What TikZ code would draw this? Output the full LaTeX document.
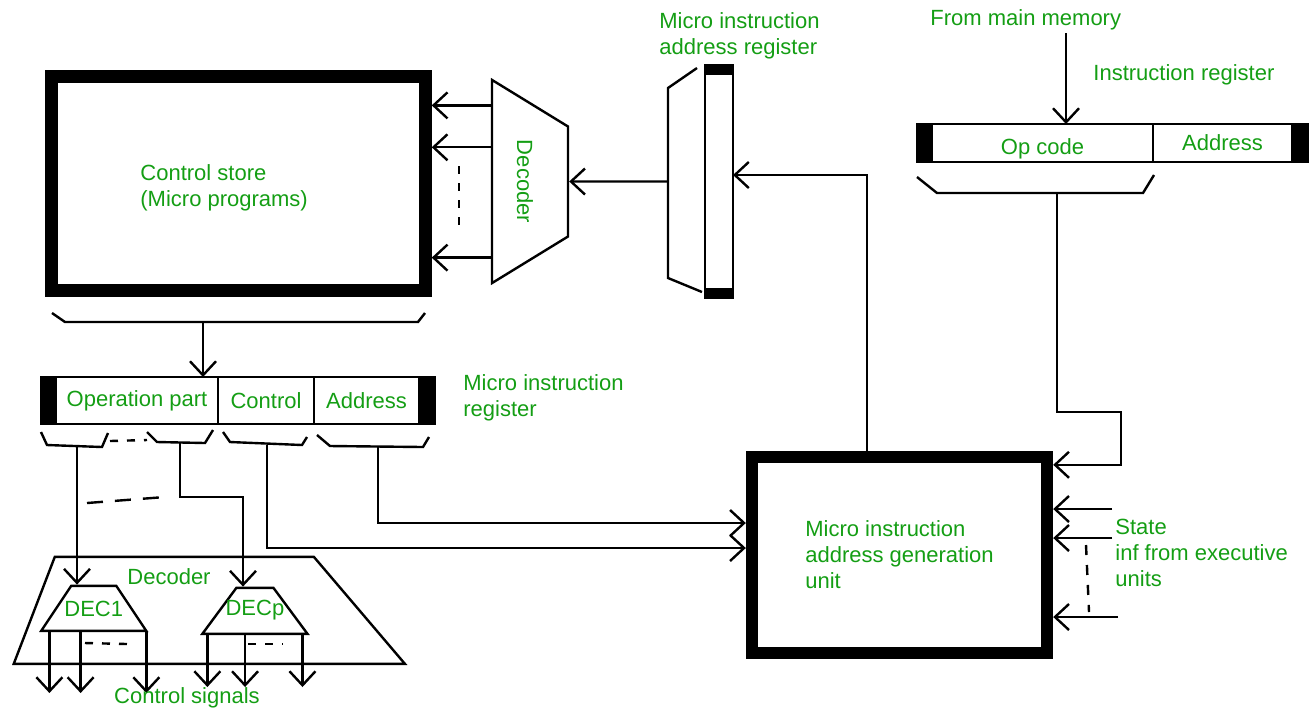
\documentclass[tikz,border=0pt]{standalone}
\usepackage{fontspec}
\setmainfont{Liberation Sans}
\usetikzlibrary{arrows.meta,positioning,calc,shapes.geometric}
\definecolor{txtgreen}{HTML}{149E14}
\newcommand{\lblfont}{\fontsize{11}{13}\selectfont}
\tikzset{
  lbl/.style={text=txtgreen, font=\lblfont, inner sep=0pt, align=left},
  bigbox/.style={draw, line width=6.2pt, inner sep=0pt},
  cell/.style={
    draw, line width=0.8pt, inner sep=0pt, outer sep=0pt,
    text=txtgreen, font=\lblfont
  },
  capcell/.style={cell, fill=black},
  trap/.style={
    draw, trapezium, line width=1.2pt,
    inner sep=0pt, text=txtgreen, font=\lblfont
  },
  wire/.style={line width=1.2pt},
  arr/.style={wire, -{Straight Barb[length=7pt,width=13pt]}},
  dashwire/.style={wire, dash pattern=on 4pt off 4.5pt}
}
\begin{document}
\begin{tikzpicture}[x=0.5pt, y=-0.5pt, node distance=0pt]
  \useasboundingbox (0,0) rectangle (1309,709);

  \node[bigbox, minimum width=187pt, minimum height=107pt] (store) at (238.5,183.5) {};
  \node[lbl, anchor=west] (storetxt) at (140,188) {Control store\\(Micro programs)};
  \node[trap, rotate=-90, trapezium angle=58.5, text height=25.5pt, text depth=12.5pt] (dec) at (530,181.5) {\makebox[55pt]{Decoder}};
  \foreach \f [count=\i] in {0.133,0.335,0.867}
    \path ($(dec.bottom left corner)!\f!(dec.bottom right corner)$) coordinate (out\i);
  \foreach \i in {1,2,3}
    \draw[arr] (out\i) -- (out\i -| store.east);
  \draw[dashwire] (459,166) -- (459,230);

  \node[capcell, minimum width=14pt, minimum height=4.5pt] (miartop) at (719,69.5) {};
  \node[cell, minimum width=14pt, minimum height=107.5pt, below=of miartop] (miar) {};
  \node[capcell, minimum width=14pt, minimum height=4.5pt, below=of miar] (miarbot) {};
  \node[lbl, anchor=west] (miartxt) at (659,35.5) {Micro instruction\\address register};
  \draw[wire] (697,68) -- (668,88) -- (668,278) -- (702,292);
  \coordinate (miarbr) at (668,181.5);
  \draw[arr] (miarbr) -- (dec.north);

  \node[capcell, minimum width=7.5pt, minimum height=19pt] (irl) at (924.5,143) {};
  \node[cell, minimum width=110.5pt, minimum height=19pt, right=of irl] (irop) {\raisebox{-5.5pt}[0pt][0pt]{Op code}\hspace{25pt}};
  \node[cell, minimum width=69.5pt, minimum height=19pt, right=of irop] (iradr) {Address\hspace{9pt}};
  \node[capcell, minimum width=8pt, minimum height=19pt, right=of iradr] (irr) {};
  \node[lbl, anchor=west] (memtxt) at (930,20) {From main memory};
  \node[lbl, anchor=west] (irtxt) at (1093,75) {Instruction register};
  \coordinate (memin) at (1066,33);
  \draw[arr] (memin) -- (memin |- irop.north);
  \draw[wire] (917,177) -- (937,193) -- (1143,193) -- (1154,175);

  \node[bigbox, lbl, minimum width=147.5pt, minimum height=98pt] (agu) at (899.5,555) {Micro instruction\\address generation\\unit};
  \coordinate (irbr) at (1057,193);
  \coordinate (irturn) at (1121,412);
  \draw[arr] (irbr) |- (irturn) |- ([yshift=-7pt]agu.north east);
  \coordinate (aguT) at ($(agu.north west)!0.394!(agu.north east)$);
  \draw[arr] (aguT) |- ([yshift=3.25pt]miar.east);

  \coordinate (st1) at (1112,509);
  \coordinate (st2) at (1112,538);
  \coordinate (st3) at (1118,617);
  \foreach \s in {st1,st2,st3}
    \draw[arr] (\s) -- (\s -| agu.east);
  \draw[dashwire, dash pattern=on 5pt off 5pt] (1086,545) -- (1089,612);
  \node[lbl, anchor=west] (statetxt) at (1115,553) {State\\inf from executive\\units};

  \draw[wire] (52,313) -- (65,322) -- (418,322) -- (425,313);
  \coordinate (stbr) at (203,322);
  \node[capcell, minimum width=7.5pt, minimum height=23.5pt] (mirl) at (48.5,400.5) {};
  \node[cell, minimum width=81pt, minimum height=23.5pt, right=of mirl] (mirop) {Operation part};
  \node[cell, minimum width=48pt, minimum height=23.5pt, right=of mirop] (mirctl) {Control};
  \node[cell, minimum width=52.5pt, minimum height=23.5pt, right=of mirctl] (miradr) {Address};
  \node[capcell, minimum width=8pt, minimum height=23.5pt, right=of miradr] (mirr) {};
  \node[lbl, anchor=west] (mirtxt) at (463,398) {Micro instruction\\register};
  \draw[arr] (stbr) -- (stbr |- mirop.north);

  \draw[wire] (41,432) -- (47,445) -- (102,447) -- (108,433);
  \draw[wire] (147,432) -- (157,442) -- (205,443) -- (213,430);
  \draw[wire] (223,432) -- (230,442) -- (302,445) -- (307,437);
  \draw[wire] (317,435) -- (330,446) -- (423,447) -- (429,437);
  \draw[dashwire] (110,441) -- (147,440);
  \coordinate (b1) at (77,446);
  \coordinate (b2) at (180,443);
  \coordinate (b3) at (267,445);
  \coordinate (b4) at (378,447);
  \coordinate (b2turn) at (243,497);

  \node[trap, trapezium left angle=69, trapezium right angle=49.6, text height=53.5pt, text depth=0pt, anchor=bottom left corner] (bigdec) at (12,665) {\makebox[129.5pt]{}};
  \node[lbl] (bigdectxt) at (169,577) {Decoder};
  \node[trap, trapezium angle=56.3, text height=15.25pt, text depth=7.25pt, anchor=bottom left corner] (dec1) at (39,632) {\makebox[22.5pt]{DEC1}};
  \node[trap, trapezium angle=53.5, text height=14pt, text depth=9pt, anchor=bottom left corner] (decp) at (200,635) {\makebox[18.5pt]{DECp}};

  \draw[arr] (b1) -- (b1 |- dec1.north);
  \draw[arr] (b2) |- (b2turn) -- (b2turn |- decp.north);
  \draw[dashwire, dash pattern=on 8pt off 6pt] (87,503) -- (165,497);
  \draw[arr] (b3) |- ([yshift=3.5pt]agu.west);
  \draw[arr] (b4) |- ([yshift=16pt]agu.west);

  \foreach \f in {0.095,0.38,0.98}
    \draw[arr] ($(dec1.bottom left corner)!\f!(dec1.bottom right corner)$) -- ++(0,61);
  \foreach \f in {0.067,0.41,0.933}
    \draw[arr] ($(decp.bottom left corner)!\f!(decp.bottom right corner)$) -- ++(0,52);
  \draw[dashwire] (85,643) -- (127,644);
  \draw[dashwire] (248,644) -- (283,644);
  \node[lbl] (sigtxt) at (187,698) {Control signals};
\end{tikzpicture}
\end{document}
